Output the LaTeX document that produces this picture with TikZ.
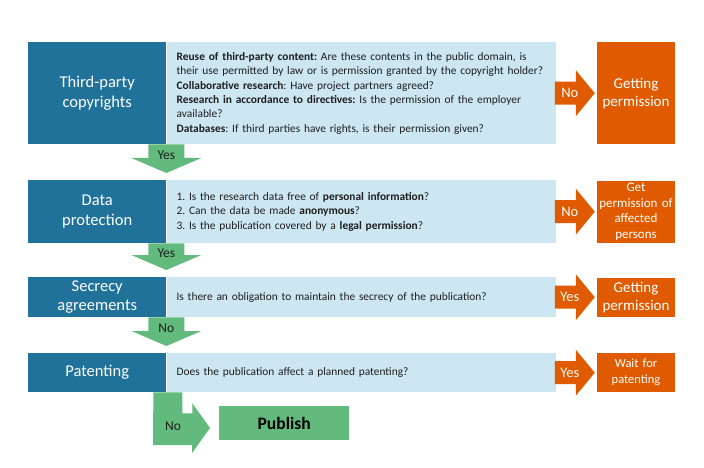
\documentclass[tikz,border=0pt]{standalone}
\usepackage{fontspec}
\setmainfont{Carlito}
\usetikzlibrary{positioning,calc}

\definecolor{topicblue}{RGB}{33,114,155}
\definecolor{questionblue}{RGB}{204,230,242}
\definecolor{resultorange}{RGB}{224,91,0}
\definecolor{passgreen}{RGB}{98,186,124}
\definecolor{bodytext}{RGB}{30,30,30}

\begin{document}
\frenchspacing
\begin{tikzpicture}[
        x=1pt,y=-1pt,
        topic/.style={
          fill=topicblue,
          text=white,
          minimum width=138pt,
          inner sep=0pt,
          align=center,
          font=\fontsize{16.5}{19.5}\selectfont
          },
        question/.style={
          fill=questionblue,
          text=bodytext,
          text width=369pt,
          inner xsep=10pt,
          inner ysep=0pt,
          align=left,
          font=\fontsize{11.4}{14.4}\selectfont
          },
        result/.style={
          fill=resultorange,
          text=white,
          text width=76pt,
          inner xsep=1pt,
          inner ysep=0pt,
          align=center
          },
        answer/.style={
          text=white,
          inner sep=0pt,
          font=\fontsize{14.5}{16}\selectfont
          },
        pass/.style={
          text=bodytext,
          inner sep=0pt,
          font=\fontsize{13.5}{15}\selectfont
          },
        publish/.style={
          fill=passgreen,
          text=black,
          minimum width=130pt,
          minimum height=34pt,
          inner sep=0pt,
          font=\fontsize{17.5}{20}\selectfont\bfseries
          }
        ]
        \useasboundingbox (0,0) rectangle (704,468);

        % rows
        \node[topic, minimum height=102pt, anchor=north west] (d1) at (28,42) {Third-party\\copyrights};
        \node[question, minimum height=102pt, right=0pt of d1] (q1) {\textbf{Reuse of third-party content:} Are these contents in the public domain, is\\
          their use permitted by law or is permission granted by the copyright holder?\\
          \textbf{Collaborative research}: Have project partners agreed?\\
          \textbf{Research in accordance to directives:} Is the permission of the employer\\
          available?\\
          \textbf{Databases}: If third parties have rights, is their permission given?};
        \node[result, minimum height=102pt, right=41pt of q1, font=\fontsize{15}{18}\selectfont] (r1) {Getting\\permission};

        \node[topic, minimum height=63pt, anchor=north west] (d2) at (28,180) {Data\\protection};
        \node[question, minimum height=63pt, right=0pt of d2] (q2) {1. Is the research data free of \textbf{personal information}?\\
          2. Can the data be made \textbf{anonymous}?\\
          3. Is the publication covered by a \textbf{legal permission}?};
        \node[result, minimum height=62pt, right=41pt of q2, font=\fontsize{13}{15.5}\selectfont] (r2) {Get\\permission of\\affected\\persons};

        \node[topic, minimum height=40pt, anchor=north west] (d3) at (28,277) {Secrecy\\agreements};
        \node[question, minimum height=40pt, right=0pt of d3] (q3) {Is there an obligation to maintain the secrecy of the publication?};
        \node[result, minimum height=39pt, right=41pt of q3, font=\fontsize{15}{18}\selectfont] (r3) {Getting\\permission};

        \node[topic, minimum height=39pt, anchor=north west] (d4) at (28,353) {Patenting};
        \node[question, minimum height=39pt, right=0pt of d4] (q4) {Does the publication affect a planned patenting?};
        \node[result, minimum height=39pt, right=41pt of q4, font=\fontsize{12.5}{16}\selectfont] (r4) {Wait for\\patenting};

        \node[publish, anchor=west] (pub) at (219,423) {Publish};

        % side arrows
        \foreach \i/\ans in {1/No,2/No,3/Yes,4/Yes}
        {
          \fill[resultorange] ($(q\i.east)+(-1,-11.5)$) -- ++(21,0) -- ++(0,-11.5) -- ($(r\i.west)+(-2,0)$)
            -- ($(q\i.east)+(20,23)$) -- ++(0,-11.5) -- ($(q\i.east)+(-1,11.5)$) -- cycle;
          \node[answer] (a\i) at ($(q\i.east)+(14,0)$) {\ans};
        }

        % down arrows
        \foreach \i/\j/\ans in {1/2/Yes,2/3/Yes,3/4/No}
        {
          \coordinate (tip\i) at ($(d\j.north east)+(0,-7)$);
          \fill[passgreen] ($(d\i.south east)+(-18,0)$) -- ($(d\i.south east)+(18,0)$) -- ($(tip\i)+(18,-15)$)
            -- ($(tip\i)+(35,-15)$) -- (tip\i) -- ($(tip\i)+(-35,-15)$) -- ($(tip\i)+(-18,-15)$) -- cycle;
          \node[pass] (p\i) at ($(d\i.south east)!0.5!(tip\i)+(0,-3)$) {\ans};
        }

        \coordinate (ptip) at ($(pub.west)+(-9,5)$);
        \fill[passgreen] ($(d4.south east)+(-13,0)$) -- ++(29,0) -- ++(0,21) -- ++(10,0) -- ++(0,-10) -- (ptip)
          -- ++(-18,25) -- ++(0,-8) -- ++(-39,0) -- cycle;
        \node[pass] (p4) at ($(ptip)+(-37,-2)$) {No};
    \end{tikzpicture}
\end{document}
